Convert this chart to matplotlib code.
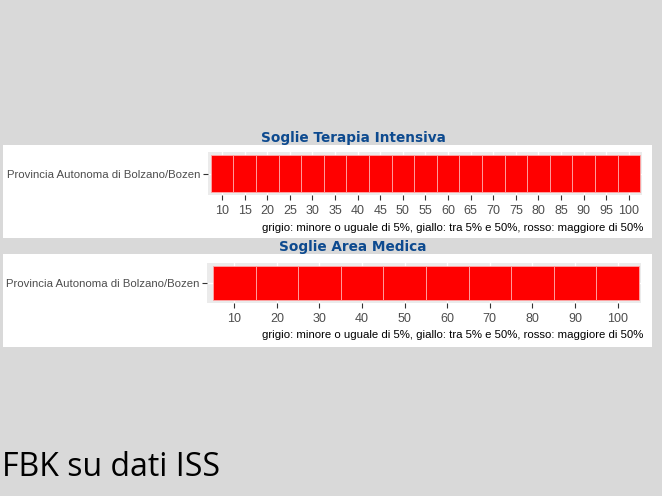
import matplotlib
matplotlib.use("Agg")
import matplotlib.pyplot as plt
from matplotlib.patches import Rectangle

# ============================================================
# DATA
# ============================================================

region = "Provincia Autonoma di Bolzano/Bozen"

ti_x = [10, 15, 20, 25, 30, 35, 40, 45, 50, 55,
        60, 65, 70, 75, 80, 85, 90, 95, 100]
ti_class = ["rosso"] * 19
ti_width = 5

am_x = [10, 20, 30, 40, 50, 60, 70, 80, 90, 100]
am_class = ["rosso"] * 10
am_width = 10

class_colors = {"grigio": "#bebebe", "giallo": "#ffff00", "rosso": "#ff0000"}

caption = ("grigio: minore o uguale di 5%, giallo: tra 5% e 50%, "
           "rosso: maggiore di 50%")

# ============================================================
# FIGURE
# ============================================================

W, H = 662, 496
fig = plt.figure(figsize=(W / 100, H / 100), dpi=100)
fig.patch.set_facecolor("#d9d9d9")


def px_rect(x0, y0, x1, y1):
    # pixel box (top-left origin) -> figure fraction
    return [x0 / W, 1 - y1 / H, (x1 - x0) / W, (y1 - y0) / H]


def white_box(x0, y0, x1, y1):
    l, b, w, h = px_rect(x0, y0, x1, y1)
    fig.patches.append(Rectangle((l, b), w, h, transform=fig.transFigure,
                                 facecolor="white", edgecolor="none",
                                 zorder=-5))


def tile_panel(box, xs, classes, width, xlim, ticks, title, title_y,
               panel_top, panel_bottom):
    white_box(3, panel_top, 652, panel_bottom)
    ax = fig.add_axes(px_rect(*box))
    ax.set_zorder(2)
    ax.set_facecolor("#ebebeb")
    for s in ax.spines.values():
        s.set_visible(False)

    cols = [class_colors[c] for c in classes]
    ax.barh([0] * len(xs), [width] * len(xs),
            left=[x - width / 2 for x in xs], height=1.0,
            color=cols, edgecolor="#ffa8a8", linewidth=0.6, zorder=3)

    ax.set_xlim(*xlim)
    ax.set_ylim(-0.58, 0.58)
    ax.set_xticks(ticks)
    ax.set_yticks([0])
    ax.set_yticklabels([region])
    ax.grid(True, color="white", linewidth=1.0, zorder=0)
    ax.set_axisbelow(True)
    ax.tick_params(axis="both", colors="#333333", length=3.5, width=0.8,
                   labelcolor="#4d4d4d", pad=2)
    ax.tick_params(axis="x", pad=3.5)
    for lab in ax.get_xticklabels():
        lab.set_fontfamily("Liberation Sans")
        lab.set_fontsize(9)
    for lab in ax.get_yticklabels():
        lab.set_fontfamily("Liberation Sans")
        lab.set_fontsize(8.2)

    fig.text(643 / W, 1 - (box[3] + 32.5) / H, caption, ha="right",
             va="center", fontsize=8.2, family="Liberation Sans",
             color="black")
    fig.text(353 / W, 1 - title_y / H, title, ha="center", va="center",
             fontsize=9.8, fontweight="bold", color="#0d4a8f",
             family="DejaVu Sans")
    return ax


tile_panel((208, 152, 642, 195), ti_x, ti_class, ti_width,
           (6.9, 102.9), ti_x, "Soglie Terapia Intensiva", 138, 145, 238)

tile_panel((207, 263, 641, 303), am_x, am_class, am_width,
           (3.6, 105.5), am_x, "Soglie Area Medica", 247, 254, 347)

fig.text(2 / W, 1 - 468 / H, "FBK su dati ISS", ha="left", va="center",
         fontsize=23, family="Open Sans", color="black")

fig.savefig("out.png", dpi=100, facecolor=fig.get_facecolor())
